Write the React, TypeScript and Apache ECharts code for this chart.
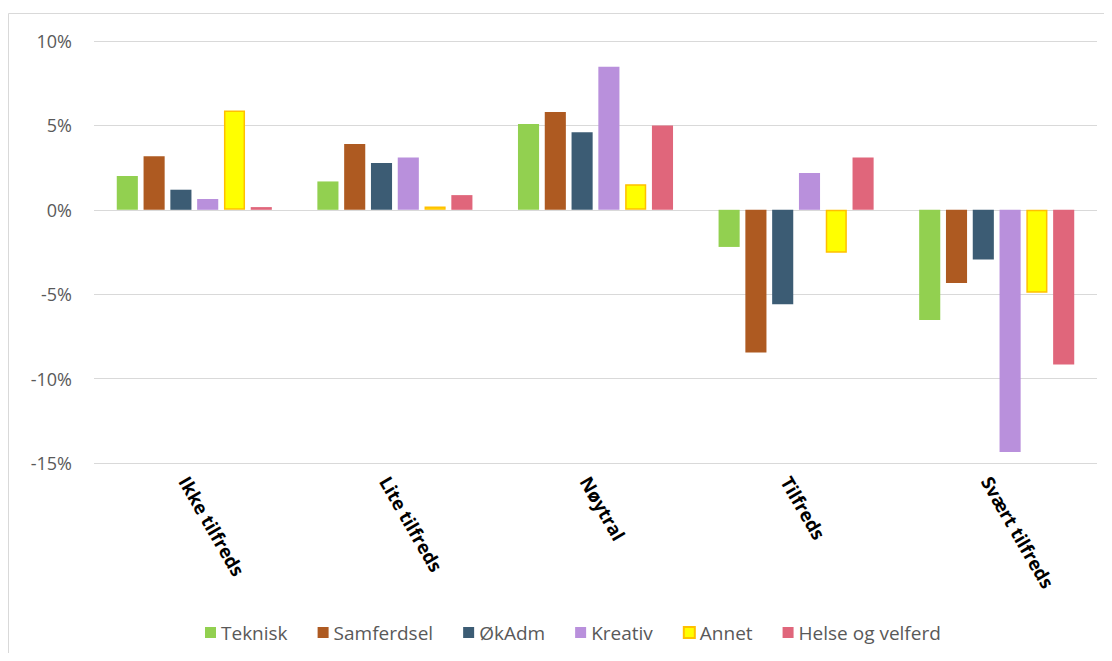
import React, { useEffect, useRef } from "react";
import * as echarts from "echarts";

const categories = ["Ikke tilfreds", "Lite tilfreds", "Nøytral", "Tilfreds", "Svært tilfreds"];
const seriesNames = ["Teknisk", "Samferdsel", "ØkAdm", "Kreativ", "Annet", "Helse og velferd"];
const teknisk = [2.0, 1.68, 5.09, -2.2, -6.53];
const samferdsel = [3.17, 3.9, 5.8, -8.45, -4.33];
const okAdm = [1.19, 2.77, 4.59, -5.6, -2.95];
const kreativ = [0.64, 3.1, 8.47, 2.18, -14.35];
const annet = [5.88, 0.2, 1.52, -2.55, -4.91];
const helse = [0.16, 0.87, 4.99, 3.1, -9.16];
const yTicks = { min: -15, max: 10, interval: 5 };

const colors = ["#92D050", "#AE5A21", "#3C5C74", "#B990DC", "#FFFF00", "#E0667B"];

export default function App() {
  const ref = useRef<HTMLDivElement>(null);
  useEffect(() => {
    if (!ref.current) return;
    const chart = echarts.init(ref.current, undefined, { renderer: "svg" });
    const values = [teknisk, samferdsel, okAdm, kreativ, annet, helse];
    const font = "'Open Sans', Lato, sans-serif";
    chart.setOption({
      animation: false,
      backgroundColor: "#ffffff",
      textStyle: { fontFamily: font },
      graphic: [
        { type: "line", shape: { x1: 0.5, y1: 5.5, x2: 1096, y2: 5.5 }, style: { stroke: "#D9D9D9", lineWidth: 1 } },
        { type: "line", shape: { x1: 0.5, y1: 5.5, x2: 0.5, y2: 645 }, style: { stroke: "#D9D9D9", lineWidth: 1 } },
      ],
      legend: {
        left: 192,
        top: 610,
        itemWidth: 11,
        itemHeight: 11,
        itemGap: 30,
        icon: "rect",
        textStyle: { fontFamily: font, fontSize: 19, color: "#595959" },
        data: seriesNames,
      },
      grid: { left: 86, right: 7, top: 33, bottom: 190, containLabel: false },
      xAxis: {
        type: "category",
        data: categories,
        axisLine: { show: false, onZero: false },
        axisTick: { show: false },
        axisLabel: {
          rotate: -60,
          interval: 0,
          margin: 9,
          verticalAlign: "top",
          padding: [2, 0, 0, 0],
          fontFamily: font,
          fontSize: 18.5,
          fontWeight: "bold",
          color: "#000000",
        },
      },
      yAxis: {
        type: "value",
        min: yTicks.min,
        max: yTicks.max,
        interval: yTicks.interval,
        axisLine: { show: false },
        axisTick: { show: false },
        splitLine: { lineStyle: { color: "#D9D9D9", width: 1 } },
        axisLabel: {
          margin: 22,
          fontFamily: font,
          fontSize: 18,
          color: "#595959",
          formatter: (v: number) => `${v}%`,
        },
      },
      series: seriesNames.map((name, i) => ({
        name,
        type: "bar",
        data: values[i],
        barGap: "27%",
        barCategoryGap: "22.7%",
        itemStyle:
          i === 4
            ? { color: colors[i], borderColor: "#FFC000", borderWidth: 1.5 }
            : { color: colors[i] },
      })),
    });
    return () => chart.dispose();
  }, []);
  return <div ref={ref} style={{ width: 1096, height: 645 }} />;
}
